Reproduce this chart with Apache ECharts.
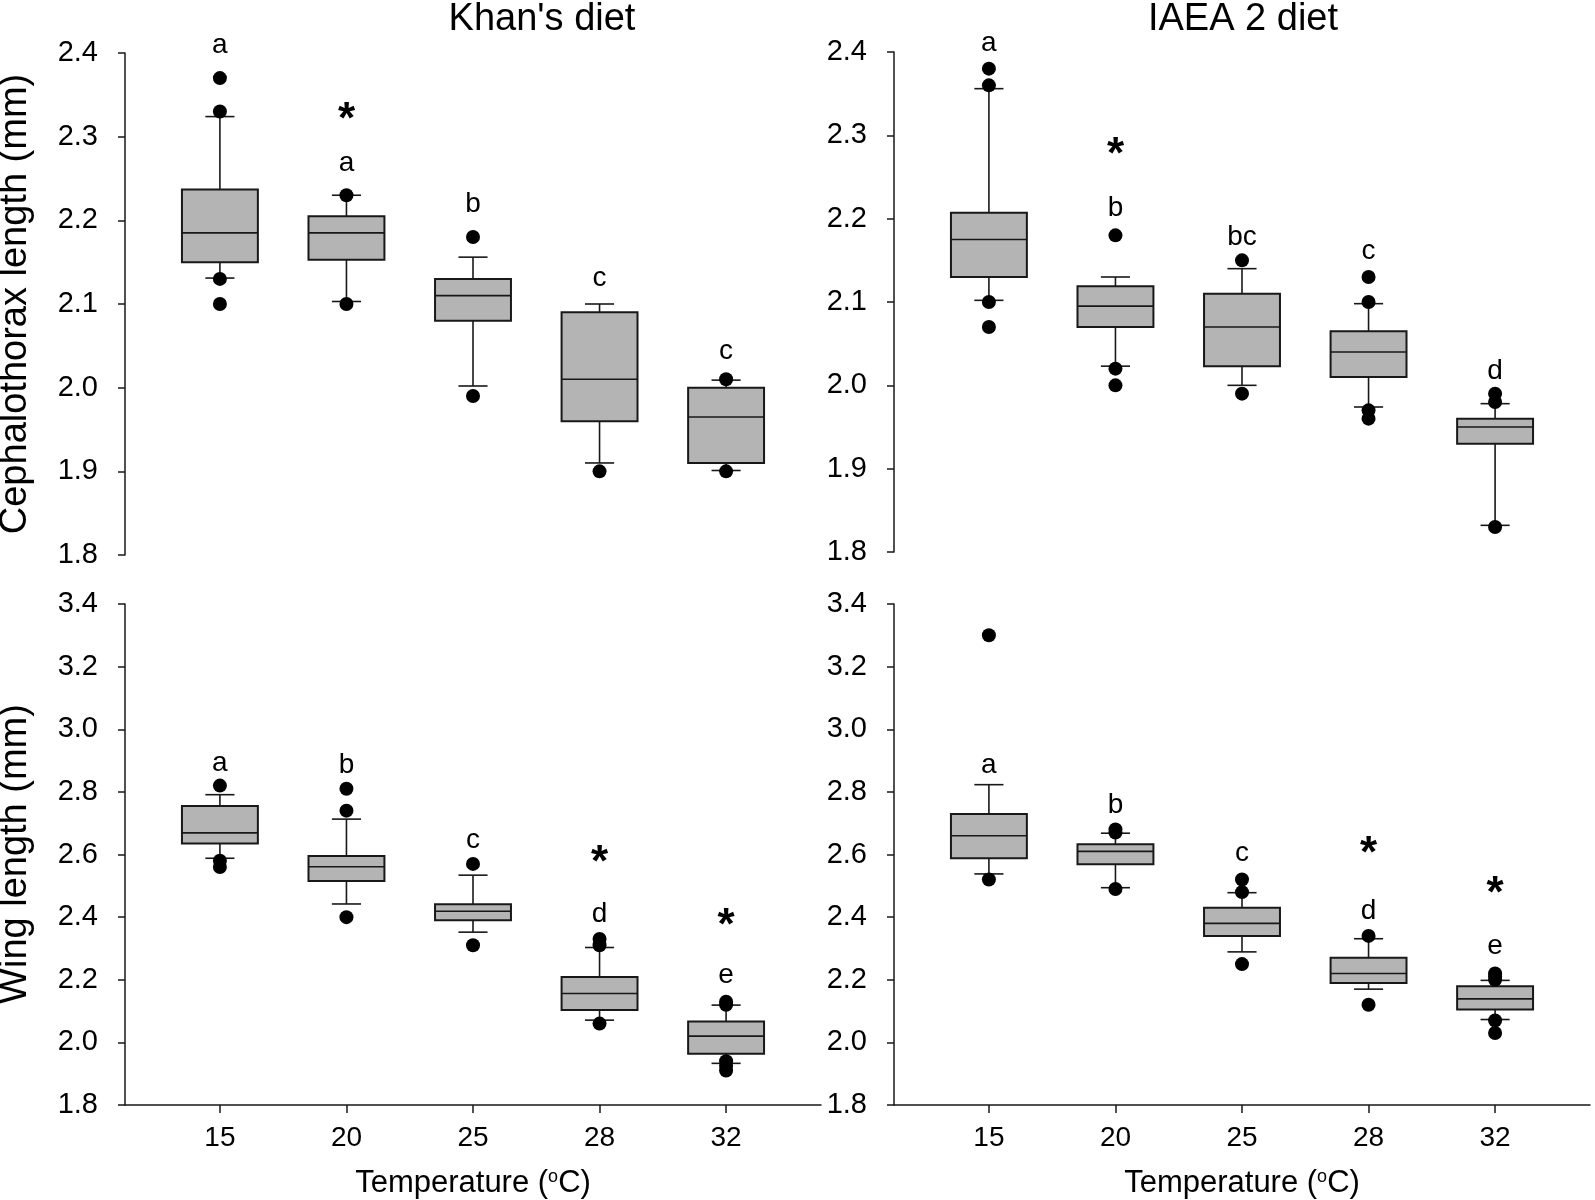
<!DOCTYPE html>
<html>
<head>
<meta charset="utf-8">
<script src="https://cdn.jsdelivr.net/npm/echarts@6/dist/echarts.min.js"></script>
<style>html,body{margin:0;padding:0;background:#fff}#c{width:1595px;height:1200px}</style>
</head>
<body>
<div id="c"></div>
<script>
const temps = ['15', '20', '25', '28', '32'];

// box: [lower whisker, Q1, median, Q3, upper whisker]
const khanCeph = [
  [2.131, 2.150, 2.185, 2.237, 2.324],
  [2.103, 2.153, 2.185, 2.205, 2.230],
  [2.002, 2.080, 2.110, 2.130, 2.156],
  [1.910, 1.960, 2.010, 2.090, 2.100],
  [1.901, 1.910, 1.965, 2.000, 2.009]
];
const khanCephOut = [[2.37, 2.33, 2.13, 2.10], [2.23, 2.10], [2.18, 1.99], [1.90], [2.01, 1.90]];
const khanCephLetters = ['a', 'a', 'b', 'c', 'c'];
const khanCephLetterY = [2.409, 2.268, 2.219, 2.131, 2.043];
const khanCephStarY = [null, 2.319, null, null, null];

const iaeaCeph = [
  [2.102, 2.130, 2.175, 2.207, 2.356],
  [2.023, 2.070, 2.095, 2.119, 2.130],
  [2.000, 2.023, 2.070, 2.110, 2.140],
  [1.974, 2.010, 2.040, 2.065, 2.098],
  [1.832, 1.930, 1.950, 1.960, 1.978]
];
const iaeaCephOut = [[2.38, 2.36, 2.10, 2.07], [2.18, 2.02, 2.00], [2.15, 1.99], [2.13, 2.10, 1.97, 1.96], [1.99, 1.98, 1.83]];
const iaeaCephLetters = ['a', 'b', 'bc', 'c', 'd'];
const iaeaCephLetterY = [2.410, 2.213, 2.178, 2.161, 2.017];
const iaeaCephStarY = [null, 2.275, null, null, null];

const khanWing = [
  [2.588, 2.635, 2.669, 2.755, 2.791],
  [2.442, 2.515, 2.561, 2.595, 2.713],
  [2.352, 2.390, 2.419, 2.441, 2.534],
  [2.071, 2.103, 2.156, 2.209, 2.303],
  [1.933, 1.964, 2.020, 2.067, 2.119]
];
const khanWingOut = [[2.82, 2.58, 2.56], [2.81, 2.74, 2.40], [2.57, 2.31], [2.33, 2.31, 2.06], [2.13, 2.12, 1.94, 1.925, 1.91]];
const khanWingLetters = ['a', 'b', 'c', 'd', 'e'];
const khanWingLetterY = [2.890, 2.884, 2.645, 2.410, 2.213];
const khanWingStarY = [null, null, null, 2.571, 2.370];

const iaeaWing = [
  [2.538, 2.588, 2.660, 2.729, 2.823],
  [2.494, 2.569, 2.610, 2.633, 2.668],
  [2.289, 2.340, 2.380, 2.430, 2.478],
  [2.170, 2.190, 2.220, 2.270, 2.331],
  [2.073, 2.105, 2.139, 2.179, 2.198]
];
const iaeaWingOut = [[3.30, 2.52], [2.68, 2.67, 2.49], [2.52, 2.48, 2.25], [2.34, 2.12], [2.22, 2.21, 2.20, 2.07, 2.03]];
const iaeaWingLetters = ['a', 'b', 'c', 'd', 'e'];
const iaeaWingLetterY = [2.885, 2.758, 2.605, 2.418, 2.306];
const iaeaWingStarY = [null, null, null, 2.600, 2.470];

const cephTicks = {min: 1.8, max: 2.4, interval: 0.1};
const wingTicks = {min: 1.8, max: 3.4, interval: 0.2};

const FONT = '"Liberation Sans", Arial, Helvetica, sans-serif';
const INK = '#181818';

const panels = [
  {grid: {left: 125, top: 53, width: 696, height: 502}, boxes: khanCeph, out: khanCephOut, letters: khanCephLetters, letterY: khanCephLetterY, starY: khanCephStarY, ticks: cephTicks, showX: false},
  {grid: {left: 894, top: 52, width: 696, height: 500}, boxes: iaeaCeph, out: iaeaCephOut, letters: iaeaCephLetters, letterY: iaeaCephLetterY, starY: iaeaCephStarY, ticks: cephTicks, showX: false},
  {grid: {left: 125, top: 604, width: 696, height: 501}, boxes: khanWing, out: khanWingOut, letters: khanWingLetters, letterY: khanWingLetterY, starY: khanWingStarY, ticks: wingTicks, showX: true},
  {grid: {left: 894, top: 604, width: 696, height: 501}, boxes: iaeaWing, out: iaeaWingOut, letters: iaeaWingLetters, letterY: iaeaWingLetterY, starY: iaeaWingStarY, ticks: wingTicks, showX: true}
];

const grids = [], xAxes = [], yAxes = [], series = [];
const positions = [1, 2, 3, 4, 5];

panels.forEach((p, i) => {
  grids.push(Object.assign({containLabel: false}, p.grid));
  xAxes.push({
    gridIndex: i, type: 'value', min: 0.25, max: 5.75, show: p.showX,
    axisLine: {show: true, onZero: false, lineStyle: {color: INK, width: 1.5}},
    axisTick: {show: true, customValues: positions, length: 8, lineStyle: {color: INK, width: 1.5}},
    axisLabel: {show: true, customValues: positions, formatter: v => temps[Math.round(v) - 1], margin: 19,
      fontSize: 28, fontFamily: FONT, color: '#000'},
    splitLine: {show: false},
    name: p.showX ? 'Temperature ({sup|o}C)' : '',
    nameLocation: 'middle', nameGap: 63,
    nameTextStyle: {fontSize: 31, fontFamily: FONT, color: '#000',
      rich: {sup: {fontSize: 18, fontFamily: FONT, color: '#000', verticalAlign: 'top', lineHeight: 28}}}
  });
  yAxes.push({
    gridIndex: i, type: 'value', min: p.ticks.min, max: p.ticks.max, interval: p.ticks.interval,
    axisLine: {show: true, onZero: false, lineStyle: {color: INK, width: 1.5}},
    axisTick: {show: true, length: 7, lineStyle: {color: INK, width: 1.5}},
    axisLabel: {formatter: v => v.toFixed(1), margin: 27, fontSize: 29, fontFamily: FONT, color: '#000'},
    splitLine: {show: false}
  });

  series.push({
    type: 'custom', xAxisIndex: i, yAxisIndex: i, z: 2,
    data: p.boxes.map((b, k) => [positions[k]].concat(b)),
    renderItem: function (params, api) {
      const x = api.value(0);
      const lw = api.coord([x, api.value(1)]);
      const q1 = api.coord([x, api.value(2)]);
      const md = api.coord([x, api.value(3)]);
      const q3 = api.coord([x, api.value(4)]);
      const uw = api.coord([x, api.value(5)]);
      const hw = api.size([0.6, 0])[0] / 2;
      const cw = api.size([0.23, 0])[0] / 2;
      const cx = q1[0];
      const ln = (x1, y1, x2, y2) => ({type: 'line', shape: {x1, y1, x2, y2}, style: {stroke: INK, lineWidth: 1.6}});
      return {type: 'group', children: [
        ln(cx, q3[1], cx, uw[1]), ln(cx - cw, uw[1], cx + cw, uw[1]),
        ln(cx, q1[1], cx, lw[1]), ln(cx - cw, lw[1], cx + cw, lw[1]),
        {type: 'rect', shape: {x: cx - hw, y: q3[1], width: 2 * hw, height: q1[1] - q3[1]},
          style: {fill: '#b4b4b4', stroke: INK, lineWidth: 2}},
        ln(cx - hw, md[1], cx + hw, md[1])
      ]};
    }
  });

  const pts = [];
  p.out.forEach((arr, k) => arr.forEach(v => pts.push([positions[k], v])));
  series.push({
    type: 'scatter', xAxisIndex: i, yAxisIndex: i, z: 5, symbol: 'circle', symbolSize: 14,
    itemStyle: {color: '#000', opacity: 1}, data: pts, silent: true
  });

  const letters = p.letters;
  series.push({
    type: 'custom', xAxisIndex: i, yAxisIndex: i, z: 6, clip: false,
    data: p.letterY.map((y, k) => [positions[k], y]),
    renderItem: function (params, api) {
      const c = api.coord([api.value(0), api.value(1)]);
      return {type: 'text', x: c[0], y: c[1], style: {text: letters[params.dataIndex], fill: '#000',
        font: '28px ' + FONT, textAlign: 'center', textVerticalAlign: 'middle', align: 'center', verticalAlign: 'middle'}};
    }
  });

  const stars = [];
  p.starY.forEach((y, k) => { if (y != null) stars.push([positions[k], y]); });
  series.push({
    type: 'custom', xAxisIndex: i, yAxisIndex: i, z: 6, clip: false,
    data: stars,
    renderItem: function (params, api) {
      const c = api.coord([api.value(0), api.value(1)]);
      return {type: 'text', x: c[0], y: c[1], style: {text: '*', fill: '#000',
        font: 'bold 44px ' + FONT, textAlign: 'center', textVerticalAlign: 'middle', align: 'center', verticalAlign: 'middle'}};
    }
  });
});

const titleStyle = (text) => ({text, fill: '#000', font: '38px ' + FONT, textAlign: 'center', textVerticalAlign: 'middle', align: 'center', verticalAlign: 'middle'});

const option = {
  backgroundColor: '#fff',
  animation: false,
  grid: grids, xAxis: xAxes, yAxis: yAxes, series,
  graphic: [
    {type: 'text', x: 542, y: 20, style: titleStyle("Khan's diet")},
    {type: 'text', x: 1243, y: 20, style: titleStyle('IAEA 2 diet')},
    {type: 'text', x: 16, y: 304, rotation: Math.PI / 2, style: titleStyle('Cephalothorax length (mm)')},
    {type: 'text', x: 16, y: 854, rotation: Math.PI / 2, style: titleStyle('Wing length (mm)')}
  ]
};

const chart = echarts.init(document.getElementById('c'), null, {renderer: 'canvas'});
chart.setOption(option);
</script>
</body>
</html>
